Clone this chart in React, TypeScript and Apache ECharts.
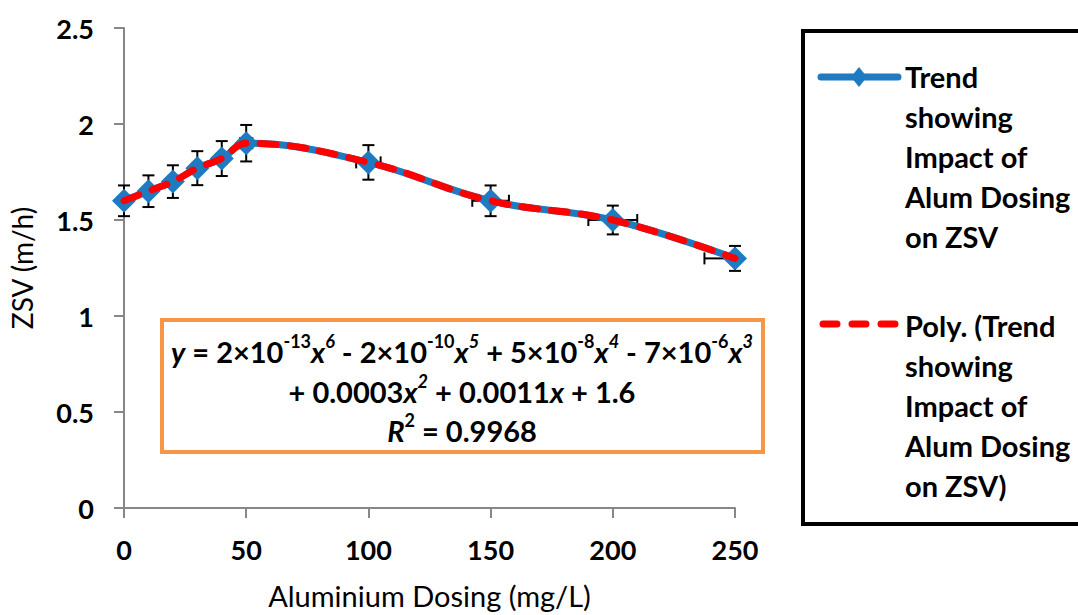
import React, { useEffect, useRef } from "react";
import * as echarts from "echarts";

const dosing = [0, 10, 20, 30, 40, 50, 100, 150, 200, 250];
const zsv = [1.6, 1.65, 1.7, 1.77, 1.82, 1.9, 1.8, 1.6, 1.5, 1.3];
const zsvErr = [0.08, 0.0825, 0.085, 0.0885, 0.091, 0.095, 0.09, 0.08, 0.075, 0.065];
const dosingErr = [0, 0.5, 1, 1.5, 2, 2.5, 5, 7.5, 10, 12.5];
const xTicks = { min: 0, max: 250, interval: 50 };
const yTicks = { min: 0, max: 2.5, interval: 0.5 };
const seriesNames = [
  "Trend showing Impact of Alum Dosing on ZSV",
  "Poly. (Trend showing Impact of Alum Dosing on ZSV)",
];
const legendLines = [
  "Trend\nshowing\nImpact of\nAlum Dosing\non ZSV",
  "Poly. (Trend\nshowing\nImpact of\nAlum Dosing\non ZSV)",
];

const FONT = "Lato, 'Open Sans', sans-serif";
const BLUE = "#1F7BC1";
const RED = "#FF0000";
const AXIS = "#878787";

export default function App() {
  const ref = useRef<HTMLDivElement>(null);
  useEffect(() => {
    if (!ref.current) return;
    const chart = echarts.init(ref.current, null, { renderer: "svg" });
    const pts = dosing.map((x, i) => [x, zsv[i]]);
    const errData = dosing.map((x, i) => [x, zsv[i], dosingErr[i], zsvErr[i]]);
    const eqFont = 29;
    const supFont = 18;
    const lh = 38;
    const rich = {
      i: { fontFamily: FONT, fontWeight: "bold", fontStyle: "italic", fontSize: eqFont, fill: "#000", lineHeight: lh },
      s: { fontFamily: FONT, fontWeight: "bold", fontSize: supFont, fill: "#000", verticalAlign: "top", lineHeight: lh },
      si: { fontFamily: FONT, fontWeight: "bold", fontStyle: "italic", fontSize: supFont, fill: "#000", verticalAlign: "top", lineHeight: lh },
      n: { fontFamily: FONT, fontWeight: "bold", fontSize: eqFont, fill: "#000", lineHeight: lh },
    };
    const eqText = (text: string, y: number) => ({
      type: "text",
      z: 20,
      style: {
        text,
        x: 462,
        y,
        align: "center",
        verticalAlign: "middle",
        fontFamily: FONT,
        fontWeight: "bold",
        fontSize: eqFont,
        fill: "#000",
        rich,
      },
    });
    chart.setOption({
      animation: false,
      backgroundColor: "#fff",
      grid: { left: 123, right: 343, top: 28, bottom: 103 },
      xAxis: {
        type: "value",
        ...xTicks,
        name: "Aluminium Dosing (mg/L)",
        nameLocation: "middle",
        nameGap: 73,
        nameTextStyle: { fontFamily: FONT, fontSize: 29, color: "#000", verticalAlign: "top" },
        axisLine: { show: true, lineStyle: { color: AXIS, width: 2 } },
        axisTick: { show: true, length: 10, lineStyle: { color: AXIS, width: 2 } },
        splitLine: { show: false },
        axisLabel: { fontFamily: FONT, fontWeight: "bold", fontSize: 27, color: "#000", margin: 28 },
      },
      yAxis: {
        type: "value",
        ...yTicks,
        name: "ZSV (m/h)",
        nameLocation: "middle",
        nameGap: 88,
        nameTextStyle: { fontFamily: FONT, fontSize: 28, color: "#000" },
        axisLine: { show: true, lineStyle: { color: AXIS, width: 2 } },
        axisTick: { show: true, length: 10, lineStyle: { color: AXIS, width: 2 } },
        splitLine: { show: false },
        axisLabel: { fontFamily: FONT, fontWeight: "bold", fontSize: 27, color: "#000", margin: 30 },
      },
      series: [
        {
          type: "custom",
          name: "errors",
          z: 1,
          silent: true,
          data: errData,
          renderItem: (params: any, api: any) => {
            const x = api.value(0);
            const y = api.value(1);
            const ex = api.value(2);
            const ey = api.value(3);
            const top = api.coord([x, y + ey]);
            const bot = api.coord([x, y - ey]);
            const c = api.coord([x, y]);
            const cap = 6;
            const st = { stroke: "#000", lineWidth: 2 };
            const children: any[] = [
              { type: "line", shape: { x1: top[0], y1: top[1], x2: bot[0], y2: bot[1] }, style: st },
              { type: "line", shape: { x1: top[0] - cap, y1: top[1], x2: top[0] + cap, y2: top[1] }, style: st },
              { type: "line", shape: { x1: bot[0] - cap, y1: bot[1], x2: bot[0] + cap, y2: bot[1] }, style: st },
            ];
            if (ex > 0) {
              const lx = Math.max(x - ex, xTicks.min);
              const rx = Math.min(x + ex, xTicks.max);
              const l = api.coord([lx, y]);
              const r = api.coord([rx, y]);
              children.push({ type: "line", shape: { x1: l[0], y1: c[1], x2: r[0], y2: c[1] }, style: st });
              if (x - ex >= xTicks.min)
                children.push({ type: "line", shape: { x1: l[0], y1: c[1] - cap, x2: l[0], y2: c[1] + cap }, style: st });
              if (x + ex <= xTicks.max)
                children.push({ type: "line", shape: { x1: r[0], y1: c[1] - cap, x2: r[0], y2: c[1] + cap }, style: st });
            }
            return { type: "group", children };
          },
        },
        {
          type: "line",
          name: seriesNames[0],
          z: 2,
          data: pts,
          smooth: 0.4,
          symbol: "diamond",
          symbolSize: 24,
          lineStyle: { color: BLUE, width: 7 },
          itemStyle: { color: BLUE },
        },
        {
          type: "line",
          name: seriesNames[1],
          z: 3,
          data: pts,
          smooth: 0.4,
          symbol: "none",
          lineStyle: { color: RED, width: 7, type: [16, 14], cap: "round" },
        },
      ],
      graphic: [
        {
          type: "rect",
          z: 10,
          shape: { x: 803, y: 31, width: 290, height: 493 },
          style: { fill: "#fff", stroke: "#000", lineWidth: 4 },
        },
        {
          type: "line",
          z: 11,
          shape: { x1: 821, y1: 77, x2: 898, y2: 77 },
          style: { stroke: BLUE, lineWidth: 7, lineCap: "round" },
        },
        {
          type: "polygon",
          z: 12,
          shape: { points: [[859, 67], [867, 77], [859, 87], [851, 77]] },
          style: { fill: BLUE },
        },
        {
          type: "line",
          z: 11,
          shape: { x1: 823, y1: 324, x2: 895, y2: 324 },
          style: { stroke: RED, lineWidth: 7, lineCap: "round", lineDash: [14, 15] },
        },
        {
          type: "text",
          z: 12,
          style: {
            text: legendLines[0],
            x: 905,
            y: 56,
            verticalAlign: "top",
            lineHeight: 40,
            fontFamily: FONT,
            fontWeight: "bold",
            fontSize: 29,
            fill: "#000",
          },
        },
        {
          type: "text",
          z: 12,
          style: {
            text: legendLines[1],
            x: 905,
            y: 305,
            verticalAlign: "top",
            lineHeight: 40,
            fontFamily: FONT,
            fontWeight: "bold",
            fontSize: 29,
            fill: "#000",
          },
        },
        {
          type: "rect",
          z: 15,
          shape: { x: 162, y: 320, width: 601, height: 132 },
          style: { fill: "#fff", stroke: "#F79646", lineWidth: 4 },
        },
        eqText("{i|y}{n| = 2×10}{s|-13}{i|x}{si|6}{n| - 2×10}{s|-10}{i|x}{si|5}{n| + 5×10}{s|-8}{i|x}{si|4}{n| - 7×10}{s|-6}{i|x}{si|3}", 351),
        eqText("{n|+ 0.0003}{i|x}{si|2}{n| + 0.0011}{i|x}{n| + 1.6}", 391),
        eqText("{i|R}{s|2}{n| = 0.9968}", 430),
      ],
    });
    return () => chart.dispose();
  }, []);
  return (
    <div
      ref={ref}
      style={{ position: "absolute", left: 0, top: 0, width: 1078, height: 615 }}
    />
  );
}
